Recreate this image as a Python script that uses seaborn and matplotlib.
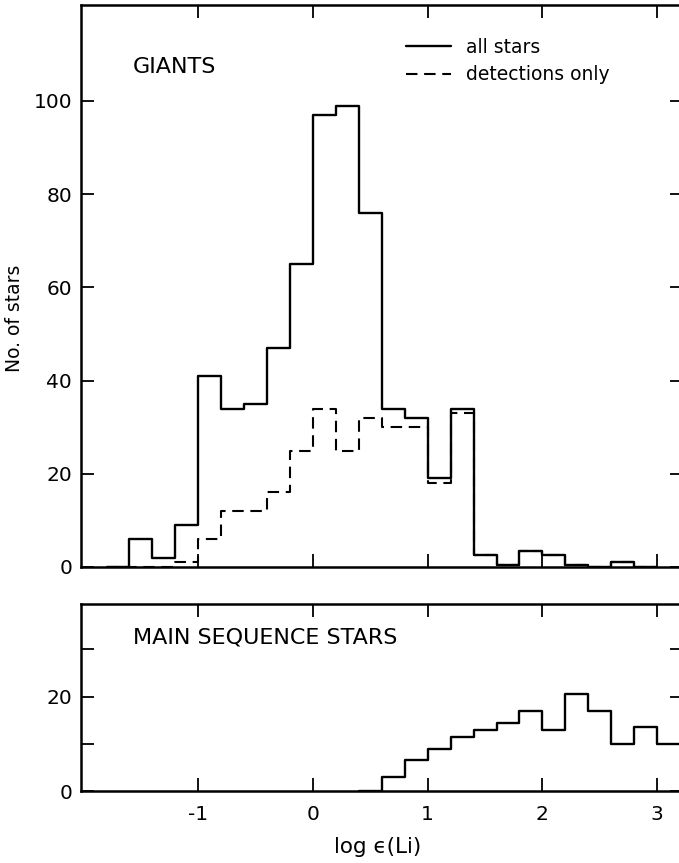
import numpy as np
import matplotlib
matplotlib.use("Agg")
import matplotlib.pyplot as plt
from matplotlib.lines import Line2D
import seaborn as sns

# Lithium abundance histograms, bins of 0.2 dex in log eps(Li)
giant_edges = [-1.8, -1.6, -1.4, -1.2, -1.0, -0.8, -0.6, -0.4, -0.2, 0.0, 0.2, 0.4,
               0.6, 0.8, 1.0, 1.2, 1.4, 1.6, 1.8, 2.0, 2.2, 2.4, 2.6, 2.8, 3.0]
giants_all = [0, 6, 2, 9, 41, 34, 35, 47, 65, 97, 99, 76,
              34, 32, 19, 34, 2.5, 0.5, 3.5, 2.5, 0.5, 0, 1, 0]
giants_detected = [0, 0, 0, 1, 6, 12, 12, 16, 25, 34, 25, 32,
                   30, 30, 18, 33, 2.5, 0.5, 3.5, 2.5, 0.5, 0, 1, 0]

ms_edges = [0.4, 0.6, 0.8, 1.0, 1.2, 1.4, 1.6, 1.8, 2.0, 2.2, 2.4, 2.6, 2.8, 3.0, 3.2]
ms_all = [0, 3, 6.5, 9, 11.5, 13, 14.5, 17, 13, 20.5, 17, 10, 13.5, 10]

x_ticks = [-1, 0, 1, 2, 3]
x_ticklabels = ["-1", "0", "1", "2", "3"]
giant_yticks = [0, 20, 40, 60, 80, 100]
ms_yticks = [0, 10, 20, 30]
ms_yticklabels = ["0", "", "20", ""]

sns.set_style("ticks")
plt.rcParams["font.family"] = ["DejaVu Sans"]
plt.rcParams["text.color"] = "black"
plt.rcParams["axes.labelcolor"] = "black"
plt.rcParams["axes.linewidth"] = 1.8

W, H = 679, 863
fig = plt.figure(figsize=(W / 100, H / 100), dpi=100)
fig.patch.set_facecolor("white")

x_left_px, x_right_px = 80.5, 683
px_per_dex = 114.7
x0_px = 313
xlim = ((x_left_px - x0_px) / px_per_dex, (x_right_px - x0_px) / px_per_dex)


def make_axes(top_px, bottom_px):
    return fig.add_axes([x_left_px / W, (H - bottom_px) / H,
                         (x_right_px - x_left_px) / W, (bottom_px - top_px) / H])


ax_g = make_axes(5, 567)
ax_m = make_axes(604, 791)

dash = (0, (5.5, 3.2))


def centers(edges):
    e = np.asarray(edges)
    return (e[:-1] + e[1:]) / 2


sns.histplot(x=centers(giant_edges), weights=giants_all, bins=giant_edges,
             element="step", fill=False, color="black", linewidth=1.7, ax=ax_g)
sns.histplot(x=centers(giant_edges), weights=giants_detected, bins=giant_edges,
             element="step", fill=False, color="black", linewidth=1.5,
             linestyle=dash, ax=ax_g)
sns.histplot(x=centers(ms_edges), weights=ms_all, bins=ms_edges,
             element="step", fill=False, color="black", linewidth=1.7, ax=ax_m)

for ax in (ax_g, ax_m):
    ax.set_xlim(*xlim)
    ax.set_xticks(x_ticks)
    ax.set_xlabel("")
    ax.set_ylabel("")
    for s in ax.spines.values():
        s.set_visible(True)
        s.set_linewidth(1.8)
        s.set_color("black")
    ax.tick_params(direction="in", length=9.5, width=1.3, top=True, right=True,
                   labelsize=14.5, colors="black")
    ax.tick_params(axis="y", pad=6)
    ax.tick_params(axis="x", pad=10)
    ax.set_facecolor("white")

ax_g.set_ylim(0, (567 - 5) / 4.66)
ax_g.set_yticks(giant_yticks)
ax_g.set_xticklabels([])

ax_m.set_ylim(0, (791 - 604) / 4.72)
ax_m.set_yticks(ms_yticks)
ax_m.set_yticklabels(ms_yticklabels)
ax_m.set_xticklabels(x_ticklabels)

fig.text(133 / W, 1 - 67 / H, "GIANTS", fontsize=16, va="center", ha="left")
fig.text(133 / W, 1 - 637 / H, "MAIN SEQUENCE STARS", fontsize=16,
         va="center", ha="left")
fig.text(15 / W, 1 - 318 / H, "No. of stars", fontsize=13.5, rotation=90,
         va="center", ha="center")
fig.text(378 / W, 1 - 847 / H, "log \u03f5(Li)", fontsize=15.5,
         va="center", ha="center")

handles = [Line2D([], [], color="black", linewidth=1.7),
           Line2D([], [], color="black", linewidth=1.5, linestyle=dash)]
ax_g.legend(handles, ["all stars", "detections only"], loc="upper left",
            bbox_to_anchor=((406 - x_left_px) / (x_right_px - x_left_px),
                            (567 - 38) / (567 - 5)),
            frameon=False, fontsize=13.5, handlelength=2.4, handletextpad=0.8,
            labelspacing=0.45, borderpad=0, borderaxespad=0)

fig.savefig("out.png", dpi=100, facecolor="white")
